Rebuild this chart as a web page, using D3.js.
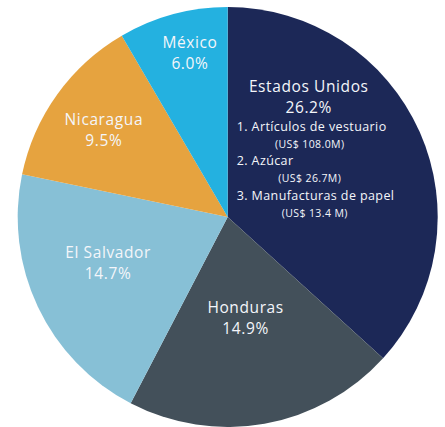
<!DOCTYPE html>
<html lang="es">
<head>
<meta charset="UTF-8">
<title>Exportaciones por destino</title>
<script src="https://d3js.org/d3.v7.min.js"></script>
<style>
    body { margin: 0; background: #fff; }
    text { font-family: "Open Sans", sans-serif; fill: #f4f6fa; }
    .name { font-size: 15.5px; letter-spacing: 0.6px; }
    .pct { font-size: 15.5px; letter-spacing: 0.6px; }
    .item { font-size: 12.5px; letter-spacing: 0.4px; }
    .amount { font-size: 10.5px; letter-spacing: 0.4px; }
</style>
</head>
<body>
<svg width="445" height="427"></svg>
<script>
    // data
    var countries = ["Estados Unidos", "Honduras", "El Salvador", "Nicaragua", "México"];
    var shares = [26.2, 14.9, 14.7, 9.5, 6.0];
    var colors = ["#1c2857", "#43505a", "#87c0d6", "#e6a33f", "#24b1e0"];
    var usProducts = ["1. Artículos de vestuario", "2. Azúcar", "3. Manufacturas de papel"];
    var usAmounts = ["(US$ 108.0M)", "(US$ 26.7M)", "(US$ 13.4 M)"];

    var svg = d3.select("svg"),
        cx = 227.7, cy = 217, radius = 210;

    var g = svg.append("g").attr("transform", "translate(" + cx + "," + cy + ")");

    var pie = d3.pie().sort(null).value(function(d) { return d; });
    var arc = d3.arc().innerRadius(0).outerRadius(radius);

    var arcs = pie(shares);

    g.selectAll("path")
        .data(arcs)
        .enter().append("path")
        .attr("d", arc)
        .attr("fill", function(d, i) { return colors[i]; });

    // label placement: radius fraction + angle (degrees, clockwise from top)
    var labelLayout = [
        {r: 0.69, a: 34},
        {r: 0.49, a: 170},
        {r: 0.61, a: 249},
        {r: 0.72, a: 305},
        {r: 0.80, a: 347}
    ];

    var labels = g.selectAll("g.label")
        .data(arcs)
        .enter().append("g")
        .attr("class", "label")
        .attr("transform", function(d, i) {
            var p = d3.pointRadial(labelLayout[i].a * Math.PI / 180, labelLayout[i].r * radius);
            return "translate(" + p[0] + "," + p[1] + ")";
        });

    labels.append("text")
        .attr("class", "name")
        .attr("text-anchor", "middle")
        .attr("y", -5)
        .text(function(d, i) { return countries[i]; });

    labels.append("text")
        .attr("class", "pct")
        .attr("text-anchor", "middle")
        .attr("y", 16)
        .text(function(d, i) { return d3.format(".1f")(shares[i]) + "%"; });

    // product list inside the Estados Unidos slice
    var us = g.select("g.label");
    var list = us.append("g").attr("transform", "translate(0,30)");
    usProducts.forEach(function(p, i) {
        list.append("text")
            .attr("class", "item")
            .attr("x", -72)
            .attr("y", 4 + i * 34.5)
            .text(p);
        list.append("text")
            .attr("class", "amount")
            .attr("text-anchor", "middle")
            .attr("x", i === 2 ? 6 : 1)
            .attr("y", 21 + i * 34.5)
            .text(usAmounts[i]);
    });
</script>
</body>
</html>
